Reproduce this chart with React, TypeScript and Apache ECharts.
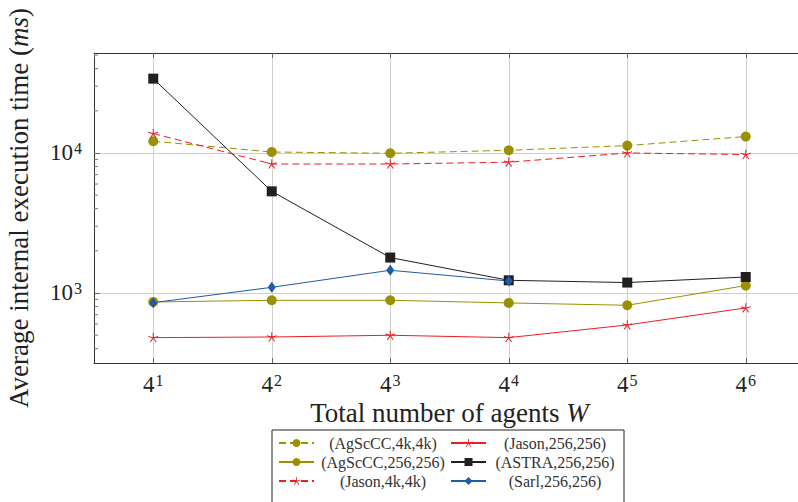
import React, { useEffect, useRef } from "react";
import * as echarts from "echarts";

// ---- data ----
const agentCounts = [4, 16, 64, 256, 1024, 4096]; // 4^1 .. 4^6
const agsccc4k = [12130, 10160, 9950, 10450, 11290, 13100];
const jason256 = [480, 485, 499, 480, 591, 782];
const agsccc256 = [863, 887, 887, 849, 817, 1129];
const astra256 = [33950, 5320, 1791, 1232, 1187, 1301];
const jason4k = [13770, 8340, 8340, 8590, 10000, 9750];
const sarl256 = [853, 1098, 1453, 1218];
const yMinorTicks = [400, 500, 600, 700, 800, 900, 2000, 3000, 4000, 5000, 6000, 7000, 8000, 9000, 20000, 30000, 40000, 50000];

const FONT = "Liberation Serif";
const OLIVE = "#9a9000";
const RED = "#ee1c24";
const BLACK = "#231f20";
const BLUE = "#1f5ba6";

function starPath(): string {
  // five thin spokes (asterisk) in a 100x100 box
  const cx = 50, cy = 50, r = 50, hw = 5;
  let d = "";
  for (let i = 0; i < 5; i++) {
    const a = -Math.PI / 2 + (i * 2 * Math.PI) / 5;
    const ex = cx + r * Math.cos(a), ey = cy + r * Math.sin(a);
    const px = -Math.sin(a) * hw, py = Math.cos(a) * hw;
    d += `M${(cx + px).toFixed(2)} ${(cy + py).toFixed(2)}L${(ex + px).toFixed(2)} ${(ey + py).toFixed(2)}L${(ex - px).toFixed(2)} ${(ey - py).toFixed(2)}L${(cx - px).toFixed(2)} ${(cy - py).toFixed(2)}Z`;
  }
  return "path://" + d;
}
const STAR = starPath();

function zip(vals: number[]) {
  return vals.map((v, i) => [agentCounts[i], v]);
}

export default function App() {
  const ref = useRef<HTMLDivElement>(null);
  useEffect(() => {
    if (!ref.current) return;
    const chart = echarts.init(ref.current, null, { renderer: "svg" });
    const supLabel = (base: string, logBase: number) => (v: number) => {
      const e = Math.round(Math.log(v) / Math.log(logBase));
      return `{b|${base}}{s|${e}}`;
    };
    const rich = {
      b: { fontSize: 23, fontFamily: FONT, color: "#222", lineHeight: 26, verticalAlign: "middle" },
      s: { fontSize: 16, fontFamily: FONT, color: "#222", lineHeight: 26, verticalAlign: "top", padding: [1, 0, 0, 1] },
    };
    const xCommon = {
      type: "log",
      logBase: 4,
      min: 2,
      max: 8192,
    };
    const line = (name: string, vals: number[], color: string, symbol: string, size: any, dashed: boolean) => ({
      name,
      type: "line",
      data: zip(vals),
      symbol,
      symbolSize: size,
      symbolKeepAspect: true,
      showSymbol: true,
      lineStyle: { color, width: 1, type: dashed ? [7, 4] : "solid" },
      itemStyle: { color },
      z: 3,
    });
    const option: any = {
      animation: false,
      backgroundColor: "#fff",
      grid: { left: 94, top: 53, right: -7, bottom: 139, outerBoundsMode: "none", containLabel: false },
      xAxis: [
        {
          ...xCommon,
          position: "bottom",
          name: "Total number of agents {i|W}",
          nameLocation: "middle",
          nameGap: 36,
          nameMoveOverlap: false,
          nameTextStyle: {
            fontFamily: FONT,
            fontSize: 27,
            color: "#222",
            rich: { i: { fontFamily: FONT, fontSize: 27, fontStyle: "italic", color: "#222" } },
          },
          axisLine: { show: true, lineStyle: { color: "#333", width: 1 } },
          axisTick: { show: true, inside: true, length: 5, lineStyle: { color: "#666" } },
          axisLabel: {
            formatter: supLabel("4", 4),
            rich,
            margin: 8,
            showMinLabel: false,
            showMaxLabel: false,
          },
          splitLine: { show: true, lineStyle: { color: "#cfcfcf", width: 1 } },
        },
        {
          ...xCommon,
          position: "top",
          axisLine: { show: true, lineStyle: { color: "#333", width: 1 } },
          axisTick: { show: true, inside: true, length: 5, lineStyle: { color: "#666" } },
          axisLabel: { show: false },
          splitLine: { show: false },
        },
      ],
      yAxis: {
        type: "log",
        logBase: 10,
        min: 316.2,
        max: 51760,
        name: "Average internal execution time ({i|ms})",
        nameLocation: "middle",
        nameGap: 62,
        nameMoveOverlap: false,
        nameTextStyle: {
          fontFamily: FONT,
          fontSize: 27,
          color: "#222",
          rich: { i: { fontFamily: FONT, fontSize: 27, fontStyle: "italic", color: "#222" } },
        },
        axisLine: { show: true, lineStyle: { color: "#333", width: 1 } },
        axisTick: { show: true, inside: true, length: 6, lineStyle: { color: "#666" } },
        axisLabel: {
          formatter: supLabel("10", 10),
          rich,
          margin: 12,
          showMinLabel: false,
          showMaxLabel: false,
        },
        splitLine: { show: true, lineStyle: { color: "#cfcfcf", width: 1 } },
      },
      legend: {
        data: ["(AgScCC,4k,4k)", "(Jason,256,256)", "(AgScCC,256,256)", "(ASTRA,256,256)", "(Jason,4k,4k)", "(Sarl,256,256)"],
        orient: "horizontal",
        left: 272,
        top: 430,
        width: 420,
        itemWidth: 35,
        itemHeight: 10,
        itemGap: 3,
        padding: [5, 5, 14, 6],
        borderColor: "#222",
        borderWidth: 1,
        backgroundColor: "#fff",
        formatter: (n: string) => `{t|${n}}`,
        textStyle: {
          fontFamily: FONT,
          fontSize: 16,
          lineHeight: 15,
          color: "#333",
          rich: { t: { width: 128, align: "center", fontFamily: FONT, fontSize: 16, lineHeight: 15, color: "#333" } },
        },
      },
      series: [
        line("(AgScCC,4k,4k)", agsccc4k, OLIVE, "circle", 10, true),
        line("(Jason,256,256)", jason256, RED, STAR, 10, false),
        line("(AgScCC,256,256)", agsccc256, OLIVE, "circle", 10, false),
        line("(ASTRA,256,256)", astra256, BLACK, "rect", 10, false),
        line("(Jason,4k,4k)", jason4k, RED, STAR, 10, true),
        line("(Sarl,256,256)", sarl256, BLUE, "diamond", [8, 11], false),
        {
          name: "minorTicks",
          type: "custom",
          silent: true,
          z: 1,
          data: yMinorTicks.map((v) => [2, v]),
          renderItem: (params: any, api: any) => {
            const p = api.coord([api.value(0), api.value(1)]);
            return {
              type: "line",
              shape: { x1: p[0], y1: p[1], x2: p[0] + 4, y2: p[1] },
              style: { stroke: "#777", lineWidth: 1 },
            };
          },
        },
      ],
    };
    chart.setOption(option);
    return () => chart.dispose();
  }, []);
  return <div ref={ref} style={{ position: "fixed", left: 0, top: 0, width: 798, height: 502 }} />;
}
